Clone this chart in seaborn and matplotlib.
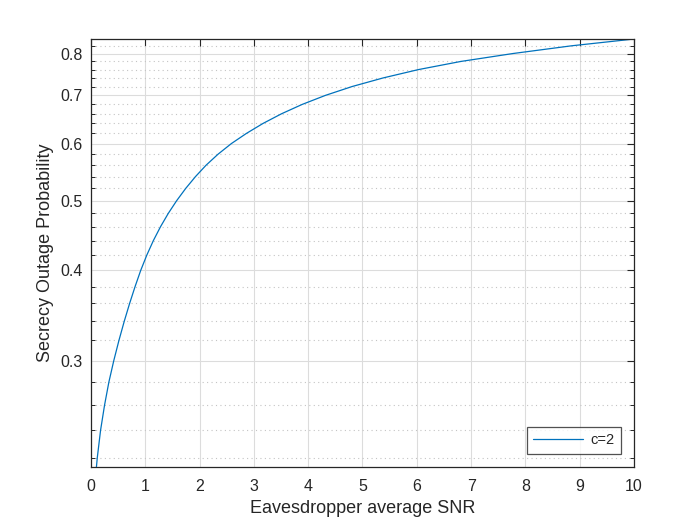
import numpy as np
import pandas as pd
import seaborn as sns
import matplotlib
matplotlib.use("Agg")
import matplotlib.pyplot as plt
from matplotlib.ticker import FixedLocator, FuncFormatter, NullFormatter

# values (eavesdropper SNR -> secrecy outage probability)
snr = [0.1, 0.116, 0.176, 0.249, 0.329, 0.42, 0.515, 0.612, 0.711, 0.812,
       0.915, 1.027, 1.148, 1.28, 1.423, 1.578, 1.745, 1.925, 2.12, 2.34,
       2.585, 2.865, 3.17, 3.51, 3.89, 4.32, 4.81, 5.38, 6.03, 6.81,
       7.77, 8.85, 10.0]
sop = [0.2135, 0.22, 0.24, 0.26, 0.28, 0.30, 0.32, 0.34, 0.36, 0.38,
       0.40, 0.42, 0.44, 0.46, 0.48, 0.50, 0.52, 0.54, 0.56, 0.58,
       0.60, 0.62, 0.64, 0.66, 0.68, 0.70, 0.72, 0.74, 0.76, 0.78,
       0.80, 0.82, 0.838]
series_name = "c=2"

x_ticks = list(range(0, 11))
y_major = [0.3, 0.4, 0.5, 0.6, 0.7, 0.8]
y_minor = [0.22, 0.24, 0.26, 0.28, 0.32, 0.34, 0.36, 0.38, 0.42, 0.44, 0.46, 0.48,
           0.52, 0.54, 0.56, 0.58, 0.62, 0.64, 0.66, 0.68, 0.72, 0.74, 0.76, 0.78, 0.82]

df = pd.DataFrame({"snr": snr, "sop": sop, "curve": series_name})

sns.set_style("white")
plt.rcParams['font.family'] = ['Liberation Sans', 'DejaVu Sans']
dark = '#262626'

fig = plt.figure(figsize=(7, 5.25), dpi=100)
ax = fig.add_axes([0.13, 0.1105, 0.7757, 0.8152])

sns.lineplot(data=df, x="snr", y="sop", hue="curve", palette=['#0072BD'],
             sort=False, estimator=None, linewidth=0.9, ax=ax)

ax.set_yscale('log')
ax.set_xlim(0, 10)
ax.set_ylim(min(sop), max(sop))

ax.set_xticks(x_ticks)
ax.yaxis.set_major_locator(FixedLocator(y_major))
ax.yaxis.set_minor_locator(FixedLocator(y_minor))
ax.yaxis.set_major_formatter(FuncFormatter(lambda v, p: "%.1f" % v))
ax.yaxis.set_minor_formatter(NullFormatter())

ax.grid(True, which='major', color='#dcdcdc', linestyle='-', linewidth=0.8)
ax.grid(True, which='minor', axis='y', color='#c4c4c4', linestyle=(0, (1, 3)), linewidth=0.8)
ax.set_axisbelow(True)

for s in ax.spines.values():
    s.set_visible(True)
    s.set_color(dark)
    s.set_linewidth(0.9)

ax.tick_params(which='major', direction='in', length=5, width=0.8, top=True, right=True,
               labelsize=11.5, colors=dark, pad=6)
ax.tick_params(axis='x', which='major', pad=9)
ax.tick_params(which='minor', direction='in', length=3, width=0.7, top=False, right=True,
               left=True, bottom=False, colors=dark)

ax.set_xlabel("Eavesdropper average SNR", fontsize=13, color=dark, labelpad=4)
ax.set_ylabel("Secrecy Outage Probability", fontsize=13, color=dark, labelpad=4.5)

leg = ax.legend(loc='lower right', fontsize=10.5, frameon=True, fancybox=False,
                handlelength=3.4, borderaxespad=0.9, borderpad=0.45, handletextpad=0.5)
leg.get_frame().set_edgecolor(dark)
leg.get_frame().set_linewidth(0.9)
for t in leg.get_texts():
    t.set_color(dark)

fig.savefig("out.png", dpi=100)
